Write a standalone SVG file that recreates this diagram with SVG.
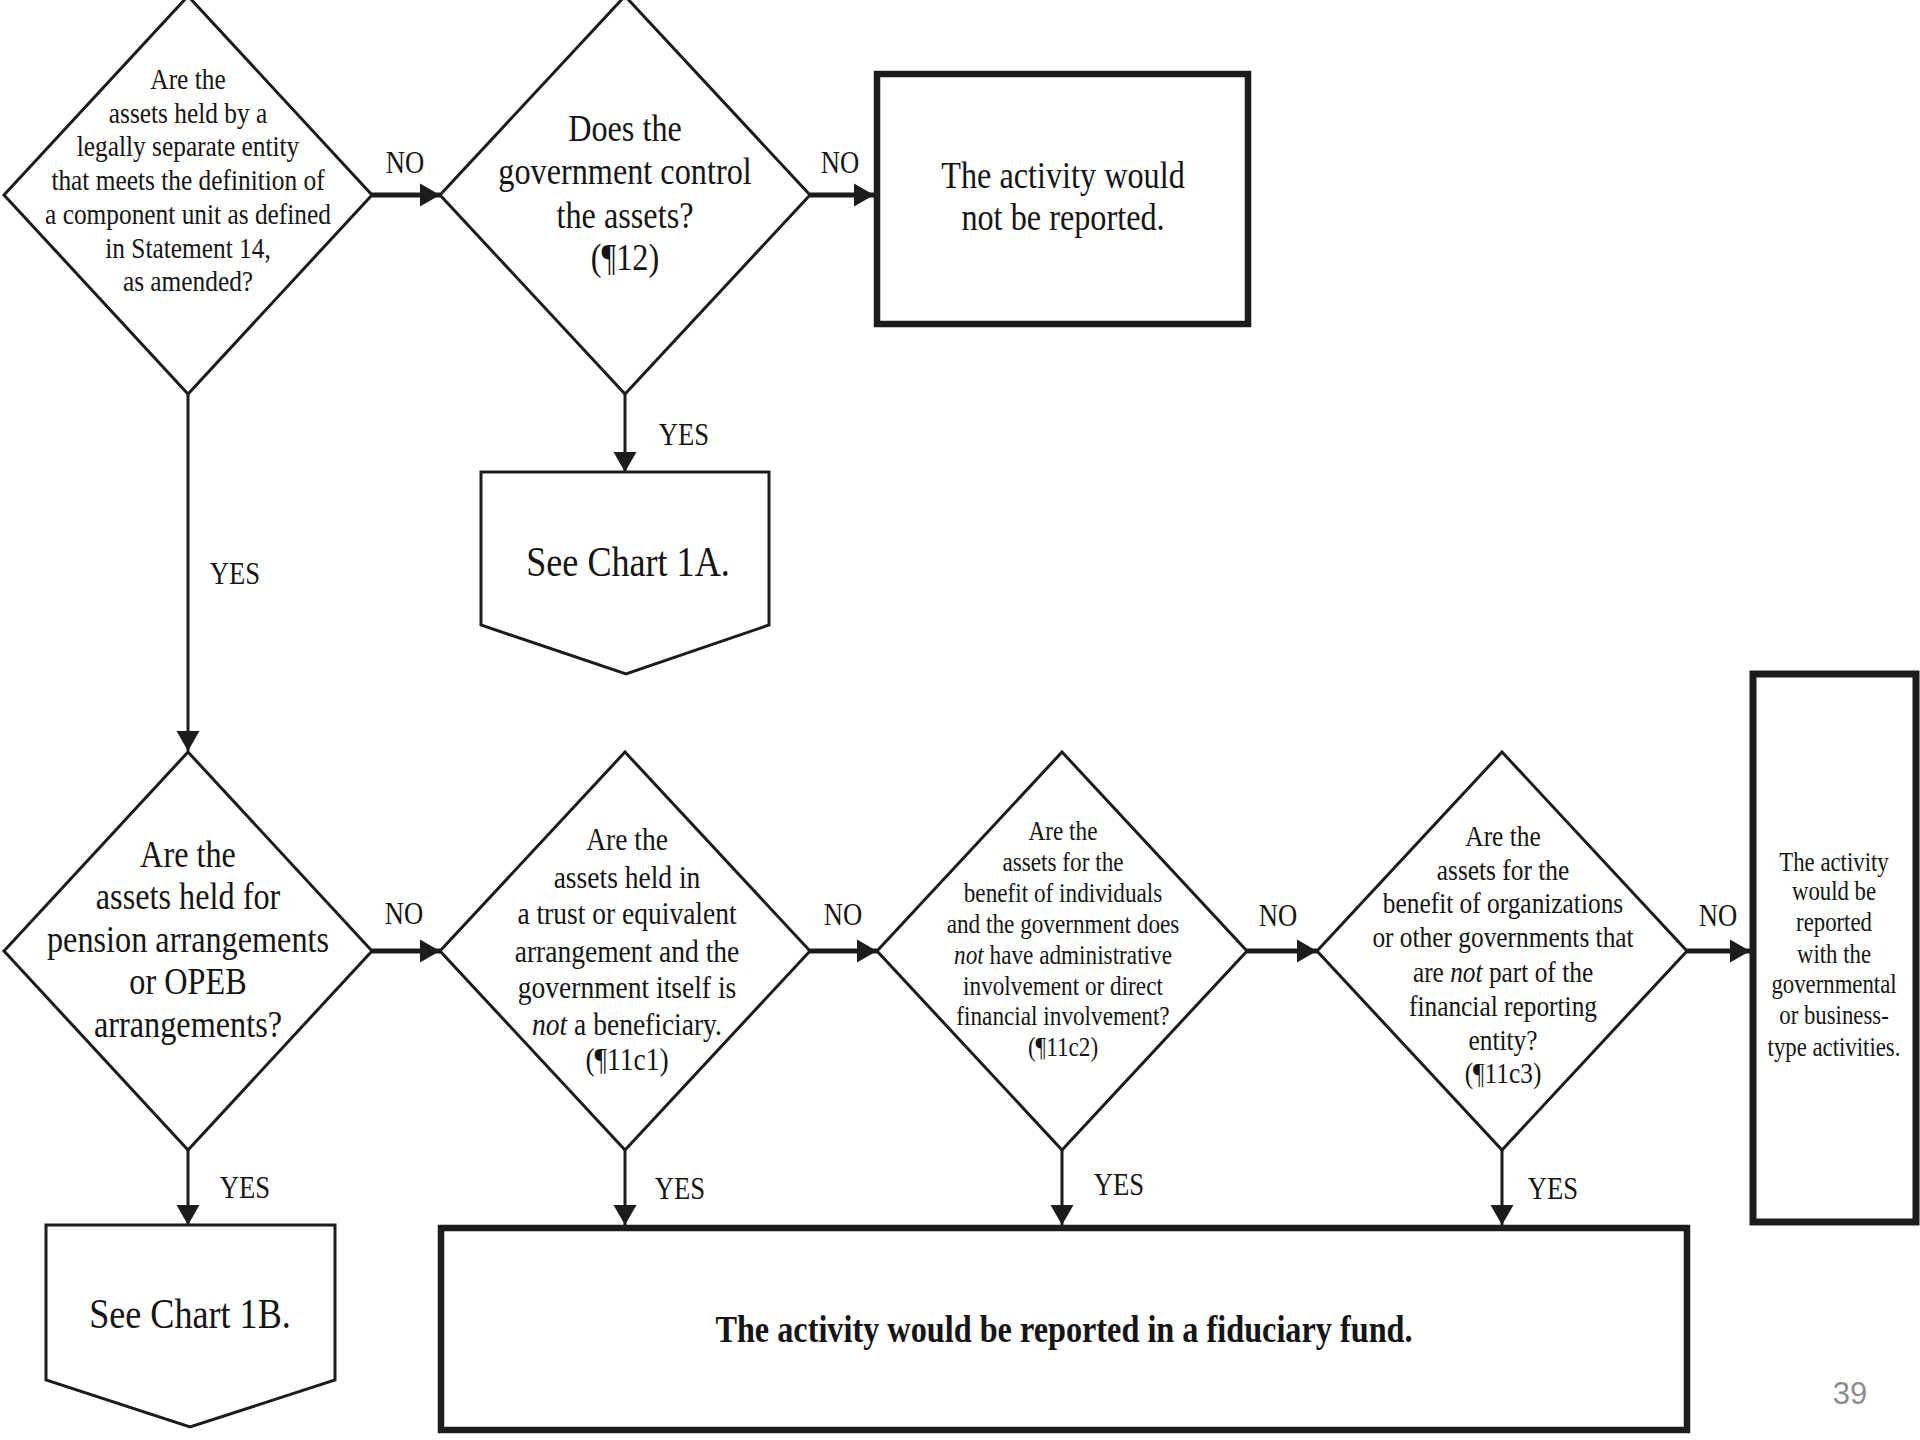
<svg xmlns="http://www.w3.org/2000/svg" width="1920" height="1440" viewBox="0 0 1920 1440">
<style>
.d{fill:#fff;stroke:#1c1c1c;stroke-width:3;stroke-linejoin:miter}
.b{fill:#fff;stroke:#1c1c1c;stroke-width:6.5}
text{font-family:"Liberation Serif","Times New Roman",serif;fill:#151515;text-anchor:middle}
.f26{font-size:26.5px}.f27{font-size:27px}.f29{font-size:29.5px}.f31{font-size:31px}.f32{font-size:32px}.f37{font-size:37.5px}.f42{font-size:42px}
.bold{font-weight:bold}
.i{font-style:italic}
.c line{stroke:#1c1c1c;marker-end:url(#ah)}
.c .h{stroke-width:5}
.c .v{stroke-width:3}
.pg{font-family:"Liberation Sans",Arial,sans-serif;font-size:31px;fill:#8c8c8c}
</style>
<defs>
<marker id="ah" markerUnits="userSpaceOnUse" markerWidth="20" markerHeight="24" refX="20" refY="12" orient="auto">
<path d="M0,0.5 L20,12 L0,23.5 z" fill="#1c1c1c"/>
</marker>
</defs>
<rect width="1920" height="1440" fill="#fff"/>

<g id="connectors" class="c">
<line class="h" x1="372" y1="195" x2="440" y2="195"/>
<line class="h" x1="810" y1="195" x2="874" y2="195"/>
<line class="v" x1="625" y1="394" x2="625" y2="472"/>
<line class="v" x1="188" y1="394" x2="188" y2="751"/>
<line class="v" x1="188" y1="1150" x2="188" y2="1225"/>
<line class="h" x1="372" y1="951" x2="440" y2="951"/>
<line class="v" x1="625" y1="1150" x2="625" y2="1225"/>
<line class="h" x1="810" y1="951" x2="877" y2="951"/>
<line class="v" x1="1062" y1="1150" x2="1062" y2="1225"/>
<line class="h" x1="1247" y1="951" x2="1317" y2="951"/>
<line class="v" x1="1502" y1="1150" x2="1502" y2="1225"/>
<line class="h" x1="1687" y1="951" x2="1750" y2="951"/>
</g>

<g id="labels">
<text class="f31" transform="matrix(0.86 0 0 1 405 0)" y="173">NO</text>
<text class="f31" transform="matrix(0.86 0 0 1 840 0)" y="173">NO</text>
<text class="f31" transform="matrix(0.86 0 0 1 684 0)" y="445">YES</text>
<text class="f31" transform="matrix(0.86 0 0 1 235 0)" y="584">YES</text>
<text class="f31" transform="matrix(0.86 0 0 1 404 0)" y="924">NO</text>
<text class="f31" transform="matrix(0.86 0 0 1 843 0)" y="925">NO</text>
<text class="f31" transform="matrix(0.86 0 0 1 1278 0)" y="926">NO</text>
<text class="f31" transform="matrix(0.86 0 0 1 1718 0)" y="926">NO</text>
<text class="f31" transform="matrix(0.86 0 0 1 245 0)" y="1198">YES</text>
<text class="f31" transform="matrix(0.86 0 0 1 680 0)" y="1199">YES</text>
<text class="f31" transform="matrix(0.86 0 0 1 1119 0)" y="1195">YES</text>
<text class="f31" transform="matrix(0.86 0 0 1 1553 0)" y="1199">YES</text>
</g>

<g id="q-component-unit">
<polygon class="d" points="188,-4 372,195 188,394 4,195"/>
<text class="f29" transform="matrix(0.86 0 0 1 188 0)"><tspan x="0" y="89">Are the</tspan><tspan x="0" y="123">assets held by a</tspan><tspan x="0" y="156">legally separate entity</tspan><tspan x="0" y="190">that meets the definition of</tspan><tspan x="0" y="224">a component unit as defined</tspan><tspan x="0" y="258">in Statement 14,</tspan><tspan x="0" y="291">as amended?</tspan></text>
</g>

<g id="q-control">
<polygon class="d" points="625,-4 810,195 625,394 440,195"/>
<text class="f37" transform="matrix(0.86 0 0 1 625 0)"><tspan x="0" y="141">Does the</tspan><tspan x="0" y="184">government control</tspan><tspan x="0" y="228">the assets?</tspan><tspan x="0" y="270">(¶12)</tspan></text>
</g>

<g id="not-reported">
<rect class="b" x="877" y="74" width="371" height="250"/>
<text class="f37" transform="matrix(0.86 0 0 1 1063 0)"><tspan x="0" y="188">The activity would</tspan><tspan x="0" y="230">not be reported.</tspan></text>
</g>

<g id="chart-1a">
<polygon class="d" points="481,472 769,472 769,625 626,674 481,625"/>
<text class="f42" transform="matrix(0.86 0 0 1 628 0)" y="576">See Chart 1A.</text>
</g>

<g id="q-pension">
<polygon class="d" points="188,752 372,951 188,1150 4,951"/>
<text class="f37" transform="matrix(0.86 0 0 1 188 0)"><tspan x="0" y="867">Are the</tspan><tspan x="0" y="909">assets held for</tspan><tspan x="0" y="952">pension arrangements</tspan><tspan x="0" y="994">or OPEB</tspan><tspan x="0" y="1037">arrangements?</tspan></text>
</g>

<g id="q-trust">
<polygon class="d" points="625,752 810,951 625,1150 440,951"/>
<text class="f32" transform="matrix(0.86 0 0 1 627 0)"><tspan x="0" y="850">Are the</tspan><tspan x="0" y="888">assets held in</tspan><tspan x="0" y="924">a trust or equivalent</tspan><tspan x="0" y="962">arrangement and the</tspan><tspan x="0" y="998">government itself is</tspan><tspan x="0" y="1035"><tspan class="i">not</tspan> a beneficiary.</tspan><tspan x="0" y="1070">(¶11c1)</tspan></text>
</g>

<g id="q-individuals">
<polygon class="d" points="1062,752 1247,951 1062,1150 877,951"/>
<text class="f27" transform="matrix(0.86 0 0 1 1063 0)"><tspan x="0" y="840">Are the</tspan><tspan x="0" y="871">assets for the</tspan><tspan x="0" y="902">benefit of individuals</tspan><tspan x="0" y="933">and the government does</tspan><tspan x="0" y="964"><tspan class="i">not</tspan> have administrative</tspan><tspan x="0" y="995">involvement or direct</tspan><tspan x="0" y="1025">financial involvement?</tspan><tspan x="0" y="1056">(¶11c2)</tspan></text>
</g>

<g id="q-organizations">
<polygon class="d" points="1502,752 1687,951 1502,1150 1317,951"/>
<text class="f29" transform="matrix(0.86 0 0 1 1503 0)"><tspan x="0" y="846">Are the</tspan><tspan x="0" y="880">assets for the</tspan><tspan x="0" y="913">benefit of organizations</tspan><tspan x="0" y="947">or other governments that</tspan><tspan x="0" y="982">are <tspan class="i">not</tspan> part of the</tspan><tspan x="0" y="1016">financial reporting</tspan><tspan x="0" y="1050">entity?</tspan><tspan x="0" y="1083">(¶11c3)</tspan></text>
</g>

<g id="governmental-activities">
<rect class="b" x="1753" y="674" width="163" height="548" style="stroke-width:7"/>
<text class="f26" transform="matrix(0.86 0 0 1 1834 0)"><tspan x="0" y="871">The activity</tspan><tspan x="0" y="900">would be</tspan><tspan x="0" y="931">reported</tspan><tspan x="0" y="963">with the</tspan><tspan x="0" y="993">governmental</tspan><tspan x="0" y="1024">or business-</tspan><tspan x="0" y="1056">type activities.</tspan></text>
</g>

<g id="chart-1b">
<polygon class="d" points="46,1225 335,1225 335,1380 190,1427 46,1380"/>
<text class="f42" transform="matrix(0.86 0 0 1 190 0)" y="1328">See Chart 1B.</text>
</g>

<g id="fiduciary-fund">
<rect class="b" x="441" y="1228" width="1246" height="202"/>
<text class="f37 bold" transform="matrix(0.86 0 0 1 1064 0)" y="1342">The activity would be reported in a fiduciary fund.</text>
</g>

<text class="pg" x="1850" y="1404">39</text>
</svg>
